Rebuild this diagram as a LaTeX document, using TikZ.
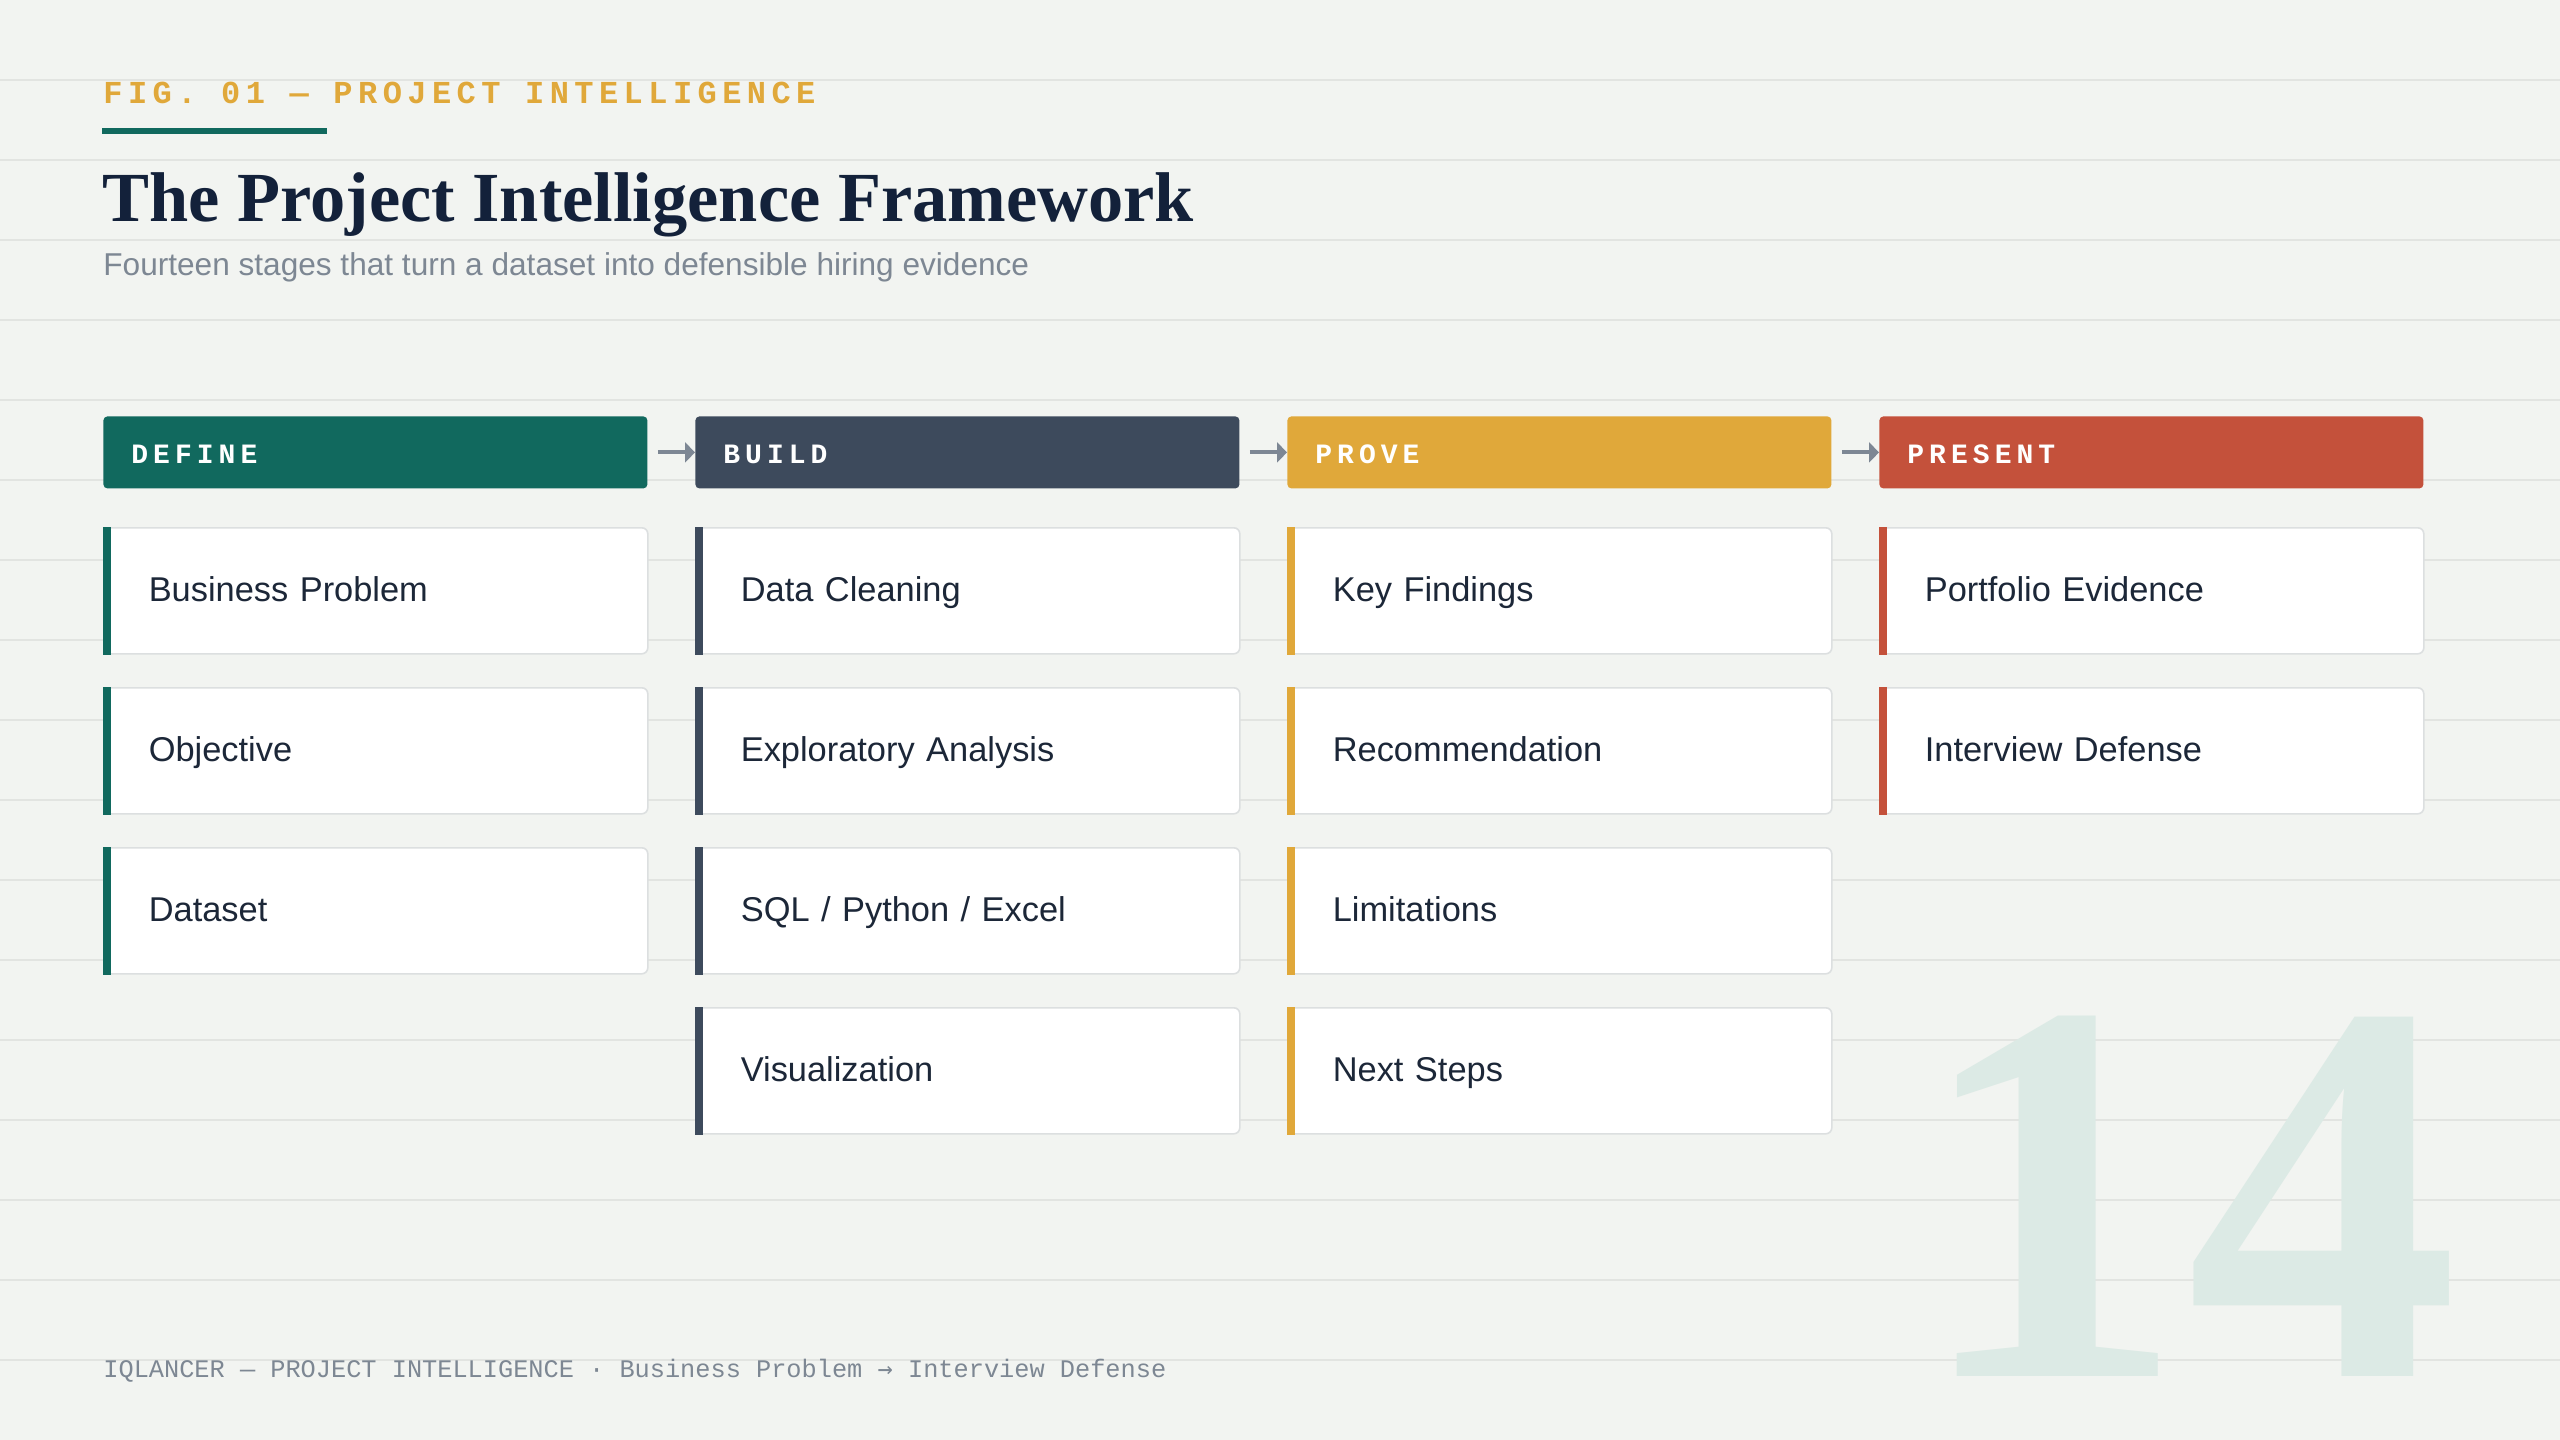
\documentclass[tikz,border=0pt]{standalone}
\usepackage{fontspec}
\setmainfont{Liberation Sans}
\newfontfamily\titlefont{Liberation Serif}
\newfontfamily\figfont{Liberation Mono}[LetterSpace=17]
\newfontfamily\hdrfont{Liberation Mono}[LetterSpace=18]
\newfontfamily\footfont{Liberation Mono}
\newfontfamily\arrowfont{DejaVu Sans Mono}
\usetikzlibrary{arrows.meta}
\definecolor{cBg}{HTML}{F2F4F1}
\definecolor{cGrid}{HTML}{E2E4E1}
\definecolor{cDefine}{HTML}{11695E}
\definecolor{cBuild}{HTML}{3D4A5C}
\definecolor{cProve}{HTML}{E0A83A}
\definecolor{cPresent}{HTML}{C4513B}
\definecolor{cTitle}{HTML}{13213A}
\definecolor{cText}{HTML}{1C2738}
\definecolor{cMuted}{HTML}{7D8793}
\definecolor{cBorder}{HTML}{DCDFE0}
\definecolor{cArrow}{HTML}{7D8794}
\definecolor{cBig}{HTML}{DCEAE5}
\newcommand{\stagecard}[5]{%
  \node[card] (#1) at (#2,#3) {#5};
  \fill[#4] (#1.north west) rectangle ([xshift=4pt]#1.south west);
}
\begin{document}
\begin{tikzpicture}[x=0.5pt,y=-0.5pt,
  gridline/.style={draw=cGrid,line width=1pt},
  hdr/.style={anchor=north west,minimum height=36pt,text width=244pt,inner xsep=14pt,inner ysep=0pt,
    align=left,rounded corners=2pt,text=white,text height=10.8pt,text depth=0pt,
    font=\hdrfont\bfseries\fontsize{14pt}{14pt}\selectfont},
  card/.style={anchor=north west,minimum height=63pt,text width=227pt,inner xsep=22.5pt,inner ysep=0pt,
    align=left,rounded corners=3pt,fill=white,draw=cBorder,line width=0.8pt,text=cText,
    text height=10.6pt,text depth=0pt,font=\fontsize{17.2pt}{20pt}\selectfont},
  flow/.style={draw=cArrow,line width=2pt,-{Triangle[length=5pt,width=10pt]}}]
\useasboundingbox (0,0) rectangle (2560,1440);
\fill[cBg] (0,0) rectangle (2560,1440);
\foreach \k in {1,...,17} \draw[gridline] (0,80*\k) -- (2560,80*\k);

% big number
\node[anchor=base,inner sep=0pt,text=cBig,font=\titlefont\bfseries\fontsize{273pt}{273pt}\selectfont] (big) at (2186,1376) {14};

% heading
\node[anchor=base west,inner sep=0pt,text=cProve,font=\figfont\bfseries\fontsize{16pt}{16pt}\selectfont] (fig) at (103,103) {FIG. 01 — PROJECT INTELLIGENCE};
\fill[cDefine] (102,128) rectangle (327,134);
\node[anchor=base west,inner sep=0pt,text=cTitle,font=\titlefont\bfseries\fontsize{35.2pt}{36pt}\selectfont] (title) at (102,221) {The Project Intelligence Framework};
\node[anchor=base west,inner sep=0pt,text=cMuted,font=\fontsize{15.8pt}{16pt}\selectfont] (subtitle) at (103,275) {Fourteen stages that turn a dataset into defensible hiring evidence};

% phase headers
\node[hdr,fill=cDefine] (define) at (103,416) {DEFINE};
\node[hdr,fill=cBuild] (build) at (695,416) {BUILD};
\node[hdr,fill=cProve] (prove) at (1287,416) {PROVE};
\node[hdr,fill=cPresent] (present) at (1879,416) {PRESENT};
\draw[flow] ([xshift=5pt]define.east) -- (build.west);
\draw[flow] ([xshift=5pt]build.east) -- (prove.west);
\draw[flow] ([xshift=5pt]prove.east) -- (present.west);

% cards
\stagecard{d1}{103}{527}{cDefine}{Business Problem}
\stagecard{d2}{103}{687}{cDefine}{Objective}
\stagecard{d3}{103}{847}{cDefine}{Dataset}
\stagecard{b1}{695}{527}{cBuild}{Data Cleaning}
\stagecard{b2}{695}{687}{cBuild}{Exploratory Analysis}
\stagecard{b3}{695}{847}{cBuild}{SQL / Python / Excel}
\stagecard{b4}{695}{1007}{cBuild}{Visualization}
\stagecard{p1}{1287}{527}{cProve}{Key Findings}
\stagecard{p2}{1287}{687}{cProve}{Recommendation}
\stagecard{p3}{1287}{847}{cProve}{Limitations}
\stagecard{p4}{1287}{1007}{cProve}{Next Steps}
\stagecard{r1}{1879}{527}{cPresent}{Portfolio Evidence}
\stagecard{r2}{1879}{687}{cPresent}{Interview Defense}

% footer
\node[anchor=base west,inner sep=0pt,text=cMuted,font=\footfont\fontsize{12.65pt}{13pt}\selectfont] (footer) at (103,1377) {IQLANCER — PROJECT INTELLIGENCE · Business Problem {\arrowfont →} Interview Defense};
\end{tikzpicture}
\end{document}
